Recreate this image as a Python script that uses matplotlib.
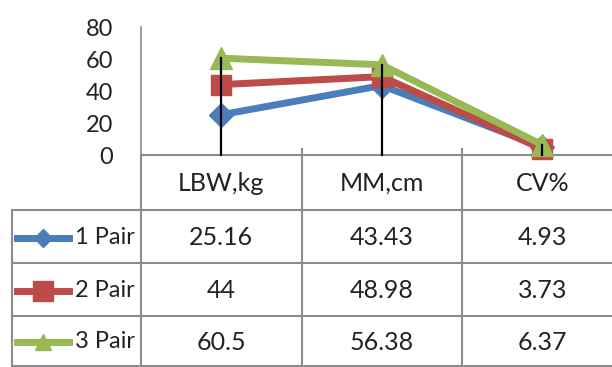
import matplotlib.pyplot as plt

plt.rcParams['font.family'] = ['Lato', 'DejaVu Sans']

categories = ['LBW,kg', 'MM,cm', 'CV%']
series_names = ['1 Pair', '2 Pair', '3 Pair']
pair1 = [25.16, 43.43, 4.93]
pair2 = [44, 48.98, 3.73]
pair3 = [60.5, 56.38, 6.37]
value_labels = [['25.16', '43.43', '4.93'],
                ['44', '48.98', '3.73'],
                ['60.5', '56.38', '6.37']]
y_ticks = [0, 20, 40, 60, 80]

colors = ['#4A7EBB', '#BE4B48', '#98B954']
markers = ['D', 's', '^']
msizes = [12, 14, 16]
key_sizes = [9, 14, 12]
series = [pair1, pair2, pair3]
grid_c = '#8C8C8C'
text_c = '#222222'

W, H = 612, 367
fig = plt.figure(figsize=(W / 100, H / 100), dpi=100)

# pixel helpers: category spacing in the picture is ~160.5 px
step = 160.5
x0 = 141


def px2x(p):
    return -0.5 + (p - x0) / step


ax = fig.add_axes([x0 / W, (H - 155) / H, (W - x0) / W, (155 - 27) / H])
ax.set_xlim(-0.5, px2x(W))
ax.set_ylim(0, 80)
xs = list(range(len(categories)))

for vals, c, m, ms in zip(series, colors, markers, msizes):
    ax.plot(xs, vals, color=c, lw=5, marker=m, ms=ms, mec=c, mfc=c,
            solid_joinstyle='miter', clip_on=False, zorder=3)

# drop lines (high-low) to the top value of each category
for i in xs:
    top = max(s[i] for s in series)
    ax.plot([i, i], [0, top], color='black', lw=1.6, zorder=5, clip_on=False)

for side in ['top', 'right']:
    ax.spines[side].set_visible(False)
ax.spines['left'].set_color(grid_c)
ax.spines['left'].set_linewidth(1.2)
ax.spines['bottom'].set_color(grid_c)
ax.spines['bottom'].set_linewidth(1.5)
ax.set_yticks(y_ticks)
ax.tick_params(axis='y', length=0, pad=20, labelsize=17, labelcolor=text_c)
ax.set_xticks([0.5, 1.5])
ax.set_xticklabels([])
ax.tick_params(axis='x', direction='in', length=5, width=1.5, color=grid_c)

# data table below the plot
tab = fig.add_axes([0, 0, 1, (H - 155) / H])
tab.set_xlim(px2x(0), px2x(W))
tab.set_ylim(H, 155)
tab.axis('off')

rows = [155, 210, 263, 316, 366]
left = px2x(12)
right = px2x(W)
for yb in rows[1:]:
    tab.plot([left, right], [yb, yb], color=grid_c, lw=1.5, clip_on=False)
tab.plot([left, left], [rows[1], rows[-1]], color=grid_c, lw=1.5)
for xb in [-0.5, 0.5, 1.5]:
    tab.plot([xb, xb], [rows[0], rows[-1]], color=grid_c, lw=1.5)

fs = 18
for i, cat in enumerate(categories):
    tab.text(i, (rows[0] + rows[1]) / 2 + 1, cat, ha='center', va='center',
             fontsize=fs, color=text_c)

for r, (name, labels, c, m, ks) in enumerate(zip(series_names, value_labels,
                                                  colors, markers, key_sizes)):
    yc = (rows[r + 1] + rows[r + 2]) / 2 + 1
    tab.plot([px2x(17), px2x(69)], [yc, yc], color=c, lw=5)
    tab.plot([px2x(43)], [yc], marker=m, ms=ks, color=c)
    tab.text(px2x(135), yc, name, ha='right', va='center', fontsize=17,
             color=text_c)
    for i, lab in enumerate(labels):
        tab.text(i, yc, lab, ha='center', va='center', fontsize=fs,
                 color=text_c)

fig.savefig('out.png', dpi=100)
